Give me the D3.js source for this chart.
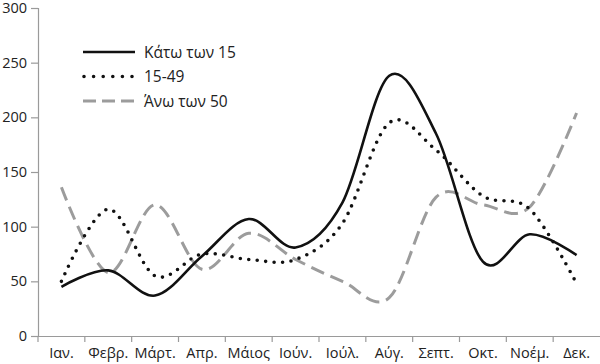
<!DOCTYPE html>
<html>
<head>
<meta charset="utf-8">
<script src="https://cdn.jsdelivr.net/npm/d3@7"></script>
<style>
  body { margin: 0; background: #fff; }
  text { font-family: "Open Sans", "DejaVu Sans", sans-serif; fill: #222; }
</style>
</head>
<body>
<div class="canvas"></div>
<script>
// data
const months = ["Ιαν.", "Φεβρ.", "Μάρτ.", "Απρ.", "Μάιος", "Ιούν.", "Ιούλ.", "Αύγ.", "Σεπτ.", "Οκτ.", "Νοέμ.", "Δεκ."];
const under15 = [45, 60, 37, 73, 107, 81, 122, 238, 185, 68, 93, 74];
const age15to49 = [50, 116, 55, 75, 70, 70, 103, 195, 170, 128, 116, 48];
const over50 = [136, 58, 120, 61, 94, 70, 50, 35, 127, 120, 118, 204];
const seriesNames = ["Κάτω των 15", "15-49", "Άνω των 50"];
const yTicks = [0, 50, 100, 150, 200, 250, 300];

// dimensions
const dims = { width: 600, height: 364 };
const margin = { top: 8, right: 0, bottom: 28, left: 38 };

const svg = d3
  .select(".canvas")
  .append("svg")
  .attr("width", dims.width)
  .attr("height", dims.height);

// scales
const x = d3
  .scaleBand()
  .domain(months)
  .range([margin.left, dims.width - margin.right]);

const y = d3
  .scaleLinear()
  .domain([0, 300])
  .range([dims.height - margin.bottom, margin.top]);

// axes
const axisColor = "#9a9a9a";

const yAxis = svg
  .append("g")
  .attr("transform", `translate(${margin.left},0)`)
  .call(d3.axisLeft(y).tickValues(yTicks).tickSize(7).tickPadding(4));

const xAxis = svg
  .append("g")
  .attr("transform", `translate(0,${y(0)})`)
  .call(d3.axisBottom(x).tickSize(0).tickPadding(12));

[xAxis, yAxis].forEach((g) => {
  g.select(".domain").attr("stroke", axisColor).attr("stroke-width", 1.2);
  g.selectAll(".tick line").attr("stroke", axisColor).attr("stroke-width", 1.2);
  g.selectAll("text")
    .attr("fill", "#222")
    .style("font-size", "14.5px")
    .style("font-family", '"Open Sans", "DejaVu Sans", sans-serif');
});

// x ticks sit on band boundaries
svg
  .append("g")
  .selectAll("line")
  .data(months)
  .join("line")
  .attr("x1", (d) => x(d))
  .attr("x2", (d) => x(d))
  .attr("y1", y(0))
  .attr("y2", y(0) + 6)
  .attr("stroke", axisColor)
  .attr("stroke-width", 1.2);

// line styles
const styles = [
  { color: "#111", width: 2.6, dash: null, cap: "butt" },
  { color: "#111", width: 3.6, dash: "0 8.5", cap: "round" },
  { color: "#9c9c9c", width: 3, dash: "14 7", cap: "butt" },
];

const series = [under15, age15to49, over50];

// line generator (uniform catmull-rom, like a spreadsheet "smoothed line")
const line = d3
  .line()
  .x((d, i) => x(months[i]) + x.bandwidth() / 2)
  .y((d) => y(d))
  .curve(d3.curveCardinal.tension(0));

// draw dashed first so the others sit on top
[2, 1, 0].forEach((k) => {
  svg
    .append("path")
    .datum(series[k])
    .attr("d", line)
    .attr("fill", "none")
    .attr("stroke", styles[k].color)
    .attr("stroke-width", styles[k].width)
    .attr("stroke-dasharray", styles[k].dash)
    .attr("stroke-linecap", styles[k].cap);
});

// legend
const legend = svg.append("g").attr("transform", "translate(83,52)");
seriesNames.forEach((name, k) => {
  const g = legend.append("g").attr("transform", `translate(0,${k * 24.5})`);
  g.append("line")
    .attr("x1", k === 1 ? 1 : 0)
    .attr("x2", 52)
    .attr("stroke", styles[k].color)
    .attr("stroke-width", styles[k].width)
    .attr("stroke-dasharray", k === 1 ? "0 9.6" : k === 2 ? "13 6" : null)
    .attr("stroke-linecap", styles[k].cap);
  g.append("text")
    .attr("x", 61)
    .attr("y", 5.5)
    .style("font-size", "15.5px")
    .text(name);
});
</script>
</body>
</html>
